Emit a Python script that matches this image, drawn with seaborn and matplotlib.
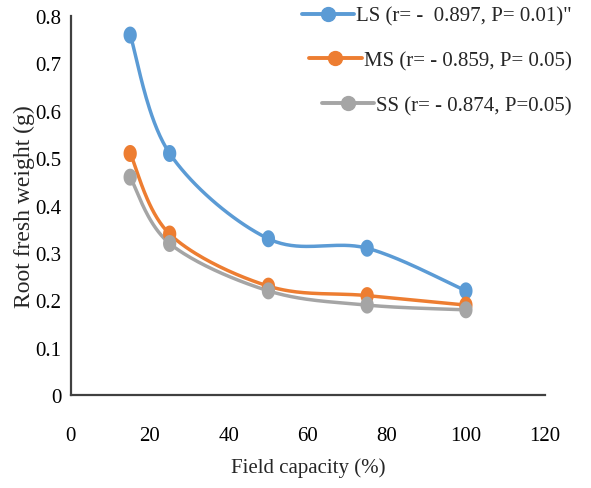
import numpy as np
import pandas as pd
import matplotlib
matplotlib.use("Agg")
import matplotlib.pyplot as plt
import seaborn as sns
from matplotlib.lines import Line2D
from matplotlib.path import Path

# ---- data ----
field_capacity = [15, 25, 50, 75, 100]
ls_values = [0.76, 0.51, 0.33, 0.31, 0.22]
ms_values = [0.51, 0.34, 0.23, 0.21, 0.19]
ss_values = [0.46, 0.32, 0.22, 0.19, 0.18]
series_names = ["LS", "MS", "SS"]
legend_labels = ['LS (r= -  0.897, P= 0.01)"',
                 'MS (r= - 0.859, P= 0.05)',
                 'SS (r= - 0.874, P=0.05)']
x_ticks = [0, 20, 40, 60, 80, 100, 120]
y_ticks = [0, 0.1, 0.2, 0.3, 0.4, 0.5, 0.6, 0.7, 0.8]
colors = ["#5B9BD5", "#ED7D31", "#A5A5A5"]

sns.set_style("white")
plt.rcParams['font.family'] = ['Liberation Serif', 'DejaVu Serif']

# tall ellipse marker (as in the reference)
_th = np.linspace(0, 2 * np.pi, 60)
ellipse = Path(np.column_stack([0.78 * np.cos(_th), np.sin(_th)]), closed=True)


def smooth(xs, ys, n=40):
    """Excel-like Catmull-Rom Bezier smoothing for drawing the line."""
    P = np.column_stack([xs, ys]).astype(float)
    P = np.vstack([P[0], P, P[-1]])
    out = []
    t = np.linspace(0, 1, n)[:, None]
    for i in range(1, len(P) - 2):
        p0, p3 = P[i], P[i + 1]
        c1 = p0 + (P[i + 1] - P[i - 1]) / 6.0
        c2 = p3 - (P[i + 2] - P[i]) / 6.0
        seg = ((1 - t) ** 3) * p0 + 3 * ((1 - t) ** 2) * t * c1 + 3 * (1 - t) * t ** 2 * c2 + t ** 3 * p3
        out.append(seg if i == 1 else seg[1:])
    s = np.vstack(out)
    return s[:, 0], s[:, 1]


df = pd.DataFrame({
    "x": field_capacity * 3,
    "y": ls_values + ms_values + ss_values,
    "series": sum([[s] * len(field_capacity) for s in series_names], []),
})

fig = plt.figure(figsize=(5.91, 4.89), dpi=100)
ax = fig.add_axes([0.120, 0.190, 0.802, 0.775])

handles = []
for name, vals, col, lab in zip(series_names, [ls_values, ms_values, ss_values], colors, legend_labels):
    sx, sy = smooth(field_capacity, vals)
    sdf = pd.DataFrame({"x": sx, "y": sy})
    sns.lineplot(data=sdf, x="x", y="y", ax=ax, color=col, lw=2.5,
                 estimator=None, sort=False, legend=False)
    handles.append(Line2D([], [], color=col, lw=2.8, marker="o", markersize=10,
                          markeredgecolor=col, label=lab))

sns.scatterplot(data=df, x="x", y="y", hue="series", palette=colors, ax=ax,
                s=150, marker=ellipse, edgecolor=None, linewidth=0, legend=False, zorder=3)

ax.set_xlim(0, 120)
ax.set_ylim(0, 0.8)
ax.set_xticks(x_ticks)
ax.set_yticks(y_ticks)
ax.set_xticklabels([str(v) for v in x_ticks])
ax.set_yticklabels(["0"] + [f"{v:.1f}" for v in y_ticks[1:]])
ax.tick_params(axis="both", length=0, labelsize=15, colors="black")
ax.tick_params(axis="x", pad=22)
ax.tick_params(axis="y", pad=7)
for side in ["top", "right"]:
    ax.spines[side].set_visible(False)
for side in ["left", "bottom"]:
    ax.spines[side].set_color("#404040")
    ax.spines[side].set_linewidth(1.6)
ax.set_xlabel("Field capacity (%)", fontsize=15, labelpad=9)
ax.set_ylabel("Root fresh weight (g)", fontsize=17, labelpad=0)

leg = ax.legend(handles=handles, loc="upper right", bbox_to_anchor=(0.967, 0.985),
                bbox_transform=fig.transFigure, frameon=False, fontsize=15,
                handlelength=2.5, handletextpad=0.1, labelspacing=1.2,
                borderaxespad=0, borderpad=0)
try:
    leg._legend_handle_box.get_children()[0].align = "right"
except Exception:
    pass

fig.savefig("out.png", dpi=100)
